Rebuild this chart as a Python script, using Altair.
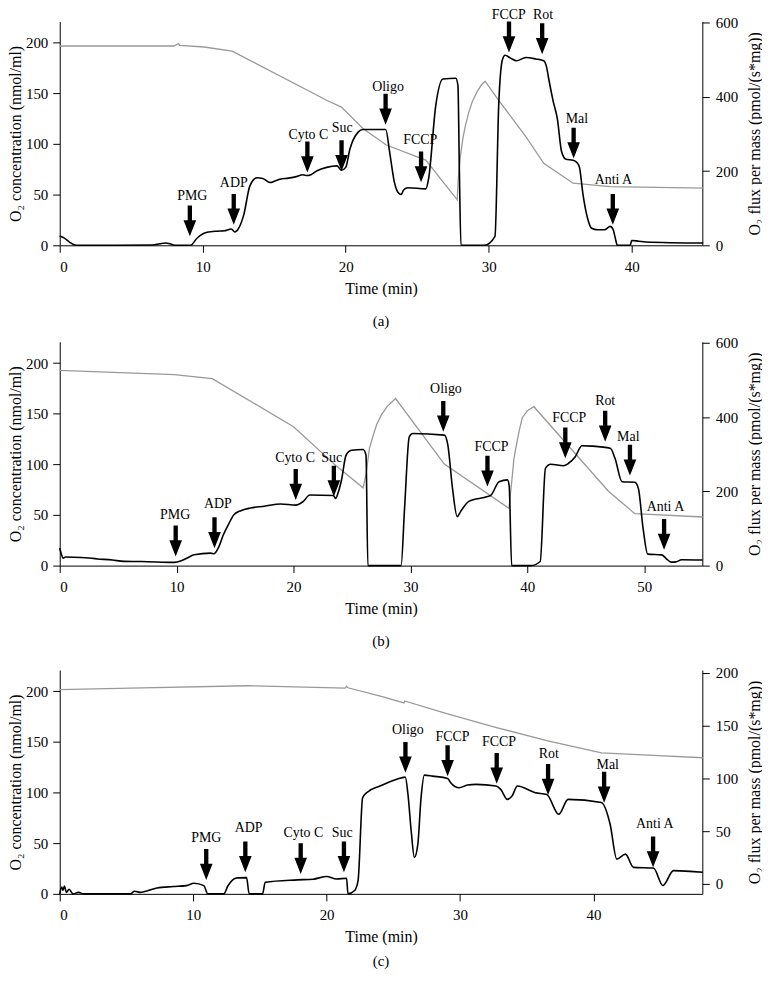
import altair as alt
import pandas as pd

FONT = "Liberation Serif"
# arrow glyph: tip at the origin, pointing down
ARROW = "M0,0L-0.41,-1.05L-0.14,-1.05L-0.14,-2L0.14,-2L0.14,-1.05L0.41,-1.05Z"

EVENTS = ["PMG", "ADP", "Cyto C", "Suc", "Oligo", "FCCP", "FCCP", "Rot", "Mal", "Anti A"]

# ---------------- panel (a) ----------------
A_O2 = [(0, 196.8), (8.0, 196.8), (8.2, 198.5), (8.3, 199), (8.4, 197.5), (10.1, 195.8),
        (12.06, 191.8), (18.67, 143.2), (19.7, 136.5), (21.2, 115.4), (22.84, 99),
        (25.6, 84.2), (27.8, 44.9), (27.87, 66), (28.03, 89), (28.2, 106), (28.38, 118.6),
        (28.6, 131), (28.85, 141.7), (29.2, 152), (29.5, 158.5), (29.75, 162),
        (30.7, 143.2), (32.6, 107.2), (33.85, 81), (35.9, 61.3), (38.5, 58), (45.0, 56.4)]
A_FLUX = [(0, 25), (0.3, 20), (0.7, 8), (1.15, 0), (3.0, 0), (6.5, 1), (7.0, 4), (7.4, 6),
          (7.8, 3), (8.1, 0), (9.15, 0), (9.6, 19), (10.3, 35), (11.0, 38), (11.5, 39),
          (12.0, 44), (12.25, 36), (12.5, 45), (12.87, 82), (13.3, 160), (13.8, 182),
          (14.2, 180), (14.7, 169), (15.1, 174), (15.4, 178), (16.0, 181), (16.55, 185),
          (17.0, 190), (17.3, 188), (17.6, 191), (18.0, 201), (18.67, 210), (19.4, 214),
          (19.7, 202), (20.0, 210), (20.3, 260), (20.87, 305), (21.2, 312), (22.8, 312),
          (23.07, 252), (23.4, 171), (23.65, 143), (23.88, 137), (24.05, 149), (24.35, 155),
          (25.6, 152), (25.8, 180), (26.3, 377), (26.8, 448), (27.7, 450), (27.85, 430),
          (27.95, 200), (28.06, 0), (29.7, 0), (30.44, 24), (30.7, 377), (30.96, 500),
          (31.15, 512), (31.5, 505), (31.95, 497), (32.6, 506), (33.3, 502), (33.85, 497),
          (34.05, 480), (34.2, 448), (34.5, 390), (34.8, 341), (35.1, 252), (35.4, 232),
          (35.9, 229), (36.2, 222), (36.35, 210), (36.6, 136), (36.9, 75), (37.2, 46),
          (37.6, 42), (38.1, 42), (38.5, 51), (38.7, 43), (38.85, 20), (39.0, 0), (39.9, 0),
          (40.0, 13), (40.5, 11), (41.0, 9), (45.0, 6)]
A_EV_T = [9.1, 12.17, 17.32, 19.71, 22.79, 25.27, 31.42, 33.74, 35.94, 38.68]
A_EV_TIP = [24.1, 55.2, 196.4, 199.8, 325, 169.6, 519.7, 515, 233.9, 55.2]
A_LAB_T = [9.27, 12.17, 17.39, 19.76, 22.96, 25.22, 31.4, 33.8, 36.17, 38.72]
A_LAB_Y = [134, 167, 298, 317, 427.5, 284.8, 620, 620, 341, 175.7]

# ---------------- panel (b) ----------------
B_O2 = [(0, 192.7), (9.8, 188.5), (13.05, 184.6), (20.0, 137.2), (23.7, 98),
        (25.95, 76.8), (26.05, 82), (26.2, 90), (26.35, 103), (26.5, 116), (26.8, 128),
        (27.1, 138.8), (27.5, 148.6), (28.0, 157), (28.73, 165), (32.9, 100.3),
        (38.43, 56.5), (38.55, 70), (38.66, 82), (38.85, 105), (39.0, 115), (39.3, 133),
        (39.57, 146), (40.0, 153), (40.56, 156.9), (46.94, 73.5), (49.2, 51.3), (55, 48)]
B_FLUX = [(0, 47), (0.15, 30), (0.28, 20), (0.5, 23), (1.84, 22), (3.25, 18), (4.5, 15),
          (5.5, 11.3), (7, 11), (9.8, 8.6), (10.4, 13), (11.0, 22), (11.5, 29), (12.9, 33.6),
          (13.2, 32), (13.6, 50), (14.0, 83), (14.5, 115), (14.9, 137), (15.5, 148),
          (16.3, 155), (17.5, 160), (18.9, 166), (20.2, 163), (20.8, 172), (21.4, 190),
          (23.4, 189), (23.6, 181), (23.8, 195), (24.1, 230), (24.5, 298), (24.96, 311),
          (25.95, 313), (26.2, 298), (26.36, 0), (29.2, 0), (29.5, 155), (29.9, 347),
          (30.2, 356), (32.9, 351.6), (33.2, 325), (33.6, 208), (34.0, 132), (34.3, 146),
          (35.0, 173), (36.6, 186), (36.9, 190), (37.58, 226), (38.3, 231), (38.45, 215),
          (38.66, 0), (40.3, 0), (41.1, 11), (41.55, 262), (42.0, 273), (43.1, 269),
          (43.5, 275), (44.1, 293.5), (44.67, 323), (45.5, 322), (47.1, 316), (47.5, 289),
          (48.1, 226), (49.2, 224.5), (49.5, 208), (49.9, 101), (50.3, 31), (51.5, 29),
          (51.9, 18.3), (52.3, 9.4), (52.7, 10), (53.2, 15.6), (55, 15)]
B_EV_T = [9.92, 13.24, 20.19, 23.45, 32.81, 36.59, 43.25, 46.66, 48.78, 51.7]
B_EV_TIP = [24.7, 47, 176.9, 186, 360.7, 212.9, 289, 333.9, 242.5, 42.5]
B_LAB_T = [9.87, 13.53, 20.13, 23.26, 33.04, 36.93, 43.59, 46.66, 48.64, 51.82]
B_LAB_Y = [136.6, 165.3, 289, 290.9, 475, 318.5, 398.4, 443, 347.3, 159]

# ---------------- panel (c) ----------------
C_O2 = [(0, 201.6), (5.3, 203.2), (14.0, 205.5), (21.4, 203.2), (21.5, 205), (21.6, 203.5),
        (24.1, 195), (25.8, 188.5), (25.85, 190.5), (29.07, 177.7), (32.8, 164),
        (36.5, 151.4), (40.6, 139.3), (44.5, 136.7), (48.2, 134.4)]
C_FLUX = [(0, -9.4), (0.15, -3), (0.25, -6), (0.35, -2), (0.5, -8), (0.7, -5), (1.0, -9.4),
          (1.4, -8), (1.8, -9.4), (5.3, -9.4), (5.6, -7), (6.0, -8), (7.3, -3.8), (8.5, -2.5),
          (9.5, -1.6), (10.06, 0.7), (10.8, -1.6), (11.1, -9.4), (12.3, -9.4), (12.6, -2),
          (12.8, 1.6), (13.3, 5.7), (14.0, 6), (14.2, -9.4), (15.2, -9.4), (15.4, 1.6),
          (17.8, 3.8), (19.0, 4.5), (20.0, 7), (20.75, 4.7), (21.5, 5.4), (21.6, -9.4),
          (22.1, -6.2), (22.36, 3.2), (22.7, 81.6), (23.0, 86.3), (24.0, 92.6), (25.2, 98.9),
          (25.9, 101.1), (26.1, 84.7), (26.34, 50.3), (26.58, 25.1), (26.84, 37.7),
          (27.08, 81.6), (27.33, 103), (27.95, 102), (29.07, 99.8), (29.3, 95.8),
          (29.94, 91), (30.56, 93.6), (31.2, 94.2), (32.7, 92.6), (33.05, 89.5),
          (33.55, 80), (33.9, 83.2), (34.3, 92.6), (35.65, 86.3), (36.5, 84.7), (37.4, 65.9),
          (38.1, 80), (40.6, 77), (41.25, 56.5), (41.75, 23.5), (42.4, 28.2), (43.0, 15.7),
          (44.5, 15), (45.2, -1.5), (46.0, 12.6), (48.2, 11)]
C_EV_T = [10.98, 13.91, 18.06, 21.3, 25.91, 29.07, 32.75, 36.6, 40.8, 44.47]
C_EV_TIP = [3.8, 11, 9.4, 11, 105.2, 102, 94.8, 84.2, 76.9, 15.7]
C_LAB_T = [10.98, 14.16, 18.26, 21.17, 26.09, 29.44, 32.92, 36.65, 41.07, 44.6]
C_LAB_Y = [43, 52.7, 47.7, 47.7, 145.4, 138.8, 134.1, 123, 112.4, 56.5]

LEFT_TICKS = [0, 50, 100, 150, 200]


def make_panel(o2, flux, ev_t, ev_tip, lab_t, lab_y, xmax, xticks, rdom, rticks,
               caption, cap_offset):
    o2_df = pd.DataFrame(o2, columns=["t", "v"])
    fx_df = pd.DataFrame(flux, columns=["t", "v"])
    ar_df = pd.DataFrame({"t": ev_t, "v": ev_tip})
    lb_df = pd.DataFrame({"name": EVENTS, "t": lab_t, "v": lab_y})

    x_enc = alt.X("t:Q", scale=alt.Scale(domain=[0, xmax], nice=False, zero=False),
                  axis=alt.Axis(values=xticks, title="Time (min)", format="d",
                                labelPadding=7, titlePadding=6))
    y_left = alt.Y("v:Q", scale=alt.Scale(domain=[0, 221], nice=False, zero=False),
                   axis=alt.Axis(orient="left", values=LEFT_TICKS,
                                 title="O₂ concentration (nmol/ml)", labelPadding=5,
                                 minExtent=34, maxExtent=34, titlePadding=2))
    y_right = alt.Y("v:Q", scale=alt.Scale(domain=rdom, nice=False, zero=False),
                    axis=alt.Axis(orient="right", values=rticks,
                                  title="O₂ flux per mass (pmol/(s*mg))",
                                  titleAngle=270, titleBaseline="top",
                                  minExtent=37, maxExtent=37, titlePadding=7))

    gray = alt.Chart(o2_df).mark_line(color="#999999", strokeWidth=1.3).encode(
        x=x_enc, y=y_left)
    black = alt.Chart(fx_df).mark_line(color="black", strokeWidth=1.6,
                                       interpolate="monotone").encode(x=x_enc, y=y_right)
    arrows = alt.Chart(ar_df).mark_point(shape=ARROW, filled=True, size=961,
                                         color="black", opacity=1).encode(x=x_enc, y=y_right)
    labels = alt.Chart(lb_df).mark_text(font=FONT, fontSize=14, align="center",
                                        baseline="middle", color="black").encode(
        x=x_enc, y=y_right, text="name:N")
    right = alt.layer(black, arrows, labels)
    return alt.layer(gray, right).resolve_scale(y="independent").properties(
        width=646, height=225,
        title=alt.TitleParams(caption, orient="bottom", frame="group", anchor="middle",
                              offset=cap_offset, fontSize=15, font=FONT,
                              fontWeight="normal", color="black"),
    )


pa = make_panel(A_O2, A_FLUX, A_EV_T, A_EV_TIP, A_LAB_T, A_LAB_Y, 44.94,
                [0, 10, 20, 30, 40], [0, 603], [0, 200, 400, 600], "(a)", 18)
pb = make_panel(B_O2, B_FLUX, B_EV_T, B_EV_TIP, B_LAB_T, B_LAB_Y, 54.97,
                [0, 10, 20, 30, 40, 50], [0, 603], [0, 200, 400, 600], "(b)", 18)
pc = make_panel(C_O2, C_FLUX, C_EV_T, C_EV_TIP, C_LAB_T, C_LAB_Y, 48.16,
                [0, 10, 20, 30, 40], [-9.4, 202.4], [0, 50, 100, 150, 200], "(c)", 10)

chart = alt.vconcat(pa, alt.vconcat(pb, pc, spacing=16), spacing=7).properties(
    padding={"top": -3, "left": 0, "right": 0, "bottom": 0}, background="white"
).configure_view(stroke=None).configure_axis(
    grid=False, domainColor="black", tickColor="black", labelColor="black",
    titleColor="black", labelFont=FONT, titleFont=FONT, labelFontSize=15,
    titleFontSize=16, titleFontWeight="normal", tickSize=7, labelPadding=6,
    domainWidth=1, tickWidth=1,
)

chart.save("out.html", embed_options={"renderer": "svg", "actions": False})
